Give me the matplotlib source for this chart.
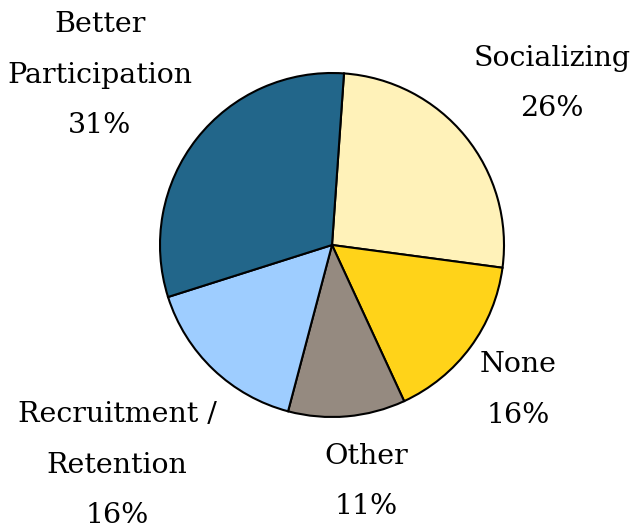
import numpy as np
import matplotlib
matplotlib.use("Agg")
import matplotlib.pyplot as plt

# 数据
labels = ["Socializing", "None", "Other", "Recruitment /\nRetention", "Better\nParticipation"]
shares = [26, 16, 11, 16, 31]
colors = ["#FFF2B9", "#FFD319", "#958A80", "#9ECDFF", "#22668A"]
# 标签位置：离圆心距离（半径倍数）和相对扇区中线的角度偏移（度）
label_dist = [1.587, 1.371, 1.389, 1.788, 1.672]
label_shift = [-2.9, -1.5, 3.2, -0.7, 2.0]

plt.rcParams["font.family"] = ["DejaVu Serif"]

fig = plt.figure(figsize=(6.34, 5.31), dpi=100)
W, H = 634, 531
cx, cy, r = 332, 531 - 245, 172
ax = fig.add_axes([(cx - r) / W, (cy - r) / H, 2 * r / W, 2 * r / H])

wedges, _ = ax.pie(shares, colors=colors, startangle=86, counterclock=False,
                   wedgeprops=dict(edgecolor="black", linewidth=1.5))
ax.set_xlim(-1, 1)
ax.set_ylim(-1, 1)
ax.set_aspect("equal")
ax.axis("off")

for w, lab, val, d, s in zip(wedges, labels, shares, label_dist, label_shift):
    ang = np.deg2rad((w.theta1 + w.theta2) / 2 + s)
    ax.text(d * np.cos(ang), d * np.sin(ang), f"{lab}\n{val}%",
            ha="center", va="center", fontsize=20.5, linespacing=2.12,
            clip_on=False)

fig.savefig("out.png", dpi=100)
